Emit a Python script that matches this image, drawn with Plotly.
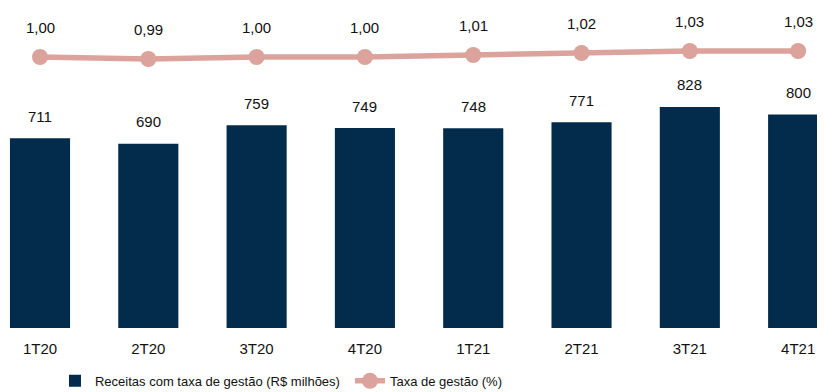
import plotly.graph_objects as go

categories = ["1T20", "2T20", "3T20", "4T20", "1T21", "2T21", "3T21", "4T21"]
receitas = [711, 690, 759, 749, 748, 771, 828, 800]
taxa = [1.00, 0.99, 1.00, 1.00, 1.01, 1.02, 1.03, 1.03]

FONT = "Liberation Sans Narrow, Arial Narrow, Liberation Sans, Arial, sans-serif"
BAR_COLOR = "#032c4c"
LINE_COLOR = "#dba39b"

fig = go.Figure()
fig.add_trace(go.Bar(
    x=categories, y=receitas, name="Receitas com taxa de gestão (R$ milhões)",
    marker=dict(color=BAR_COLOR, line=dict(width=0)), width=0.555,
))
fig.add_trace(go.Scatter(
    x=categories, y=taxa, name="Taxa de gestão (%)", yaxis="y2",
    mode="lines+markers", line=dict(color=LINE_COLOR, width=5.5),
    marker=dict(color=LINE_COLOR, size=16),
))

annotations = []
for c, v in zip(categories, receitas):
    annotations.append(dict(x=c, y=v, xref="x", yref="y", text=str(v), showarrow=False,
                            yshift=22, font=dict(family=FONT, size=15, color="#111111")))
for c, v in zip(categories, taxa):
    annotations.append(dict(x=c, y=v, xref="x", yref="y2", text=f"{v:.2f}".replace(".", ","),
                            showarrow=False, yshift=30, font=dict(family=FONT, size=15, color="#111111")))

fig.update_layout(
    width=817, height=384,
    margin=dict(l=0, r=0, t=0, b=64),
    paper_bgcolor="white", plot_bgcolor="white",
    font=dict(family=FONT, size=15, color="#111111"),
    xaxis=dict(range=[-0.2955, 7.248], showgrid=False, showline=False, zeroline=False,
               ticks="", ticklabelstandoff=10, tickfont=dict(family=FONT, size=15)),
    yaxis=dict(range=[0, 1198.5], visible=False, showgrid=False, zeroline=False),
    yaxis2=dict(range=[-0.355, 1.245], overlaying="y", visible=False, showgrid=False, zeroline=False),
    showlegend=True,
    legend=dict(orientation="h", x=0.0575, xanchor="left", y=0.029, yanchor="middle",
                yref="container", xref="container",
                font=dict(family=FONT, size=13), itemwidth=30,
                entrywidth=250, entrywidthmode="pixels"),
    annotations=annotations,
    bargap=0.45,
)

fig.write_html("out.html")
